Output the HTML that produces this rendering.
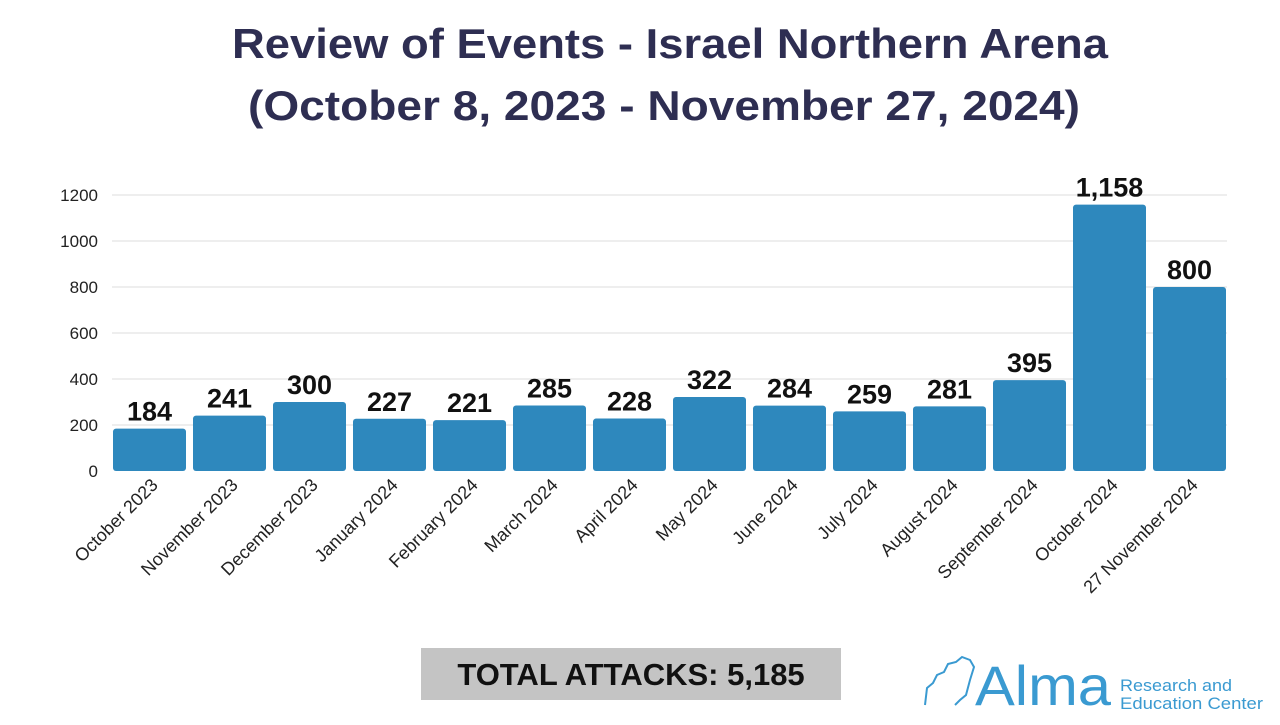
<!DOCTYPE html>
<html><head><meta charset="utf-8"><style>
body{margin:0;width:1280px;height:720px;background:#fff;overflow:hidden;font-family:"Liberation Sans",sans-serif}
</style></head><body>
<svg width="1280" height="720" xmlns="http://www.w3.org/2000/svg" font-family="Liberation Sans, sans-serif">
<text x="232" y="58" textLength="876" lengthAdjust="spacingAndGlyphs" font-size="42" font-weight="bold" fill="#2e2e52">Review of Events - Israel Northern Arena</text>
<text x="248" y="120" textLength="832" lengthAdjust="spacingAndGlyphs" font-size="42" font-weight="bold" fill="#2e2e52">(October 8, 2023 - November 27, 2024)</text>
<g stroke="#dcdcdc" stroke-width="1">
<line x1="112" x2="1227" y1="195" y2="195"/><line x1="112" x2="1227" y1="241" y2="241"/>
<line x1="112" x2="1227" y1="287" y2="287"/><line x1="112" x2="1227" y1="333" y2="333"/>
<line x1="112" x2="1227" y1="379" y2="379"/><line x1="112" x2="1227" y1="425" y2="425"/>
</g>
<g font-size="17" fill="#222" text-anchor="end">
<text x="98" y="201">1200</text><text x="98" y="247">1000</text><text x="98" y="293">800</text>
<text x="98" y="339">600</text><text x="98" y="385">400</text><text x="98" y="431">200</text><text x="98" y="477">0</text>
</g>
<g id="bars" fill="#2e88bd"></g>
<g id="vals" font-size="27" font-weight="bold" fill="#111" text-anchor="middle"></g>
<g id="labs" font-size="18" fill="#222" text-anchor="end"></g>
<rect x="421" y="648" width="420" height="52" fill="#c4c4c4"/>
<text x="631" y="685" text-anchor="middle" font-size="31" font-weight="bold" fill="#111">TOTAL ATTACKS: 5,185</text>
<path d="M925 705 L927 688 L933 683 L937 675 L944 672 L948 664 L956 662 L962 657 L970 660 L974 667 L970 680 L966 695 L960 700 L955 705" fill="none" stroke="#3a9ad1" stroke-width="2"/>
<text x="975" y="705" textLength="136" lengthAdjust="spacingAndGlyphs" font-size="56" fill="#3a9ad1">Alma</text>
<text x="1120" y="691" textLength="112" lengthAdjust="spacingAndGlyphs" font-size="17" fill="#3a9ad1">Research and</text>
<text x="1120" y="709" textLength="143" lengthAdjust="spacingAndGlyphs" font-size="17" fill="#3a9ad1">Education Center</text>
</svg>
<script>
var v=[184,241,300,227,221,285,228,322,284,259,281,395,1158,800];
var lab=["October 2023","November 2023","December 2023","January 2024","February 2024","March 2024","April 2024","May 2024","June 2024","July 2024","August 2024","September 2024","October 2024","27 November 2024"];
var ns="http://www.w3.org/2000/svg";
function el(t,a,p,txt){var e=document.createElementNS(ns,t);for(var k in a)e.setAttribute(k,a[k]);if(txt)e.textContent=txt;document.getElementById(p).appendChild(e);}
for(var i=0;i<14;i++){var x=113+i*80,h=v[i]*0.23,y=471-h;
el("rect",{x:x,y:y,width:73,height:h,rx:3},"bars");
el("text",{x:x+36.5,y:y-8},"vals",v[i]>=1000?"1,158":String(v[i]));
var cx=x+46,cy=486;el("text",{x:cx,y:cy,transform:"rotate(-45 "+cx+" "+cy+")"},"labs",lab[i]);}
</script>
</body></html>
